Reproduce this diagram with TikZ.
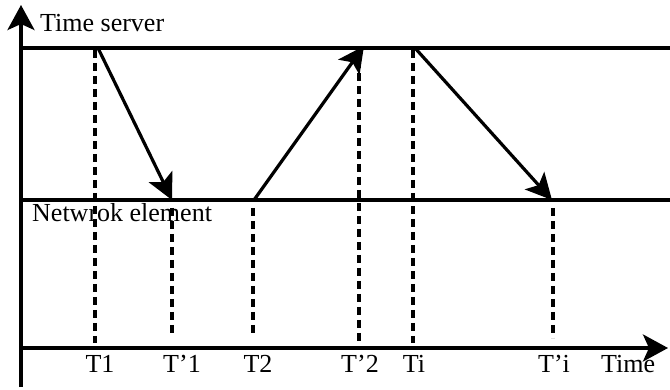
\documentclass[tikz,border=0pt]{standalone}
\usepackage{fontspec}
\setmainfont{Liberation Serif}
\usetikzlibrary{arrows.meta}

\begin{document}
\begin{tikzpicture}[x=1pt, y=-1pt,
    axis/.style={line width=3.5pt, -{Stealth[length=25pt, width=27pt, inset=6pt]}},
    rail/.style={line width=3.3pt},
    msg/.style={line width=3.2pt, -{Stealth[length=26pt, width=26pt, inset=6pt]}},
    vdash/.style={line width=3.8pt, dash pattern=on 8pt off 5pt},
    lab/.style={font=\fontsize{26}{31}\selectfont, inner sep=0pt, anchor=base}]
    \useasboundingbox (0,0) rectangle (670,390);
    % axes
    \coordinate (o) at (21,348);
    \coordinate (ybot) at (21,387);
    \coordinate (ytop) at (21,5);
    \coordinate (xend) at (668,348);
    \draw[axis] (ybot) -- (ytop);
    \draw[axis] (o) -- (xend);
    % the two time lines
    \coordinate (srvl) at (21,48);
    \coordinate (srvr) at (670,48);
    \coordinate (nel) at (21,200);
    \coordinate (ner) at (670,200);
    \draw[rail] (srvl) -- (srvr);
    \draw[rail] (nel) -- (ner);
    \node[lab, anchor=base west] (srv) at (40,32) {Time server};
    \node[lab, anchor=base west] (ne) at (32,222) {Netwrok element};
    % dashed drops
    \coordinate (d1a) at (95,50);   \coordinate (d1b) at (95,343);
    \coordinate (d2a) at (172,208); \coordinate (d2b) at (172,337);
    \coordinate (d3a) at (253,208); \coordinate (d3b) at (253,335);
    \coordinate (d4a) at (359,60);  \coordinate (d4b) at (359,345);
    \coordinate (d5a) at (413,50);  \coordinate (d5b) at (413,343);
    \coordinate (d6a) at (553,208); \coordinate (d6b) at (553,338);
    \draw[vdash] (d1a) -- (d1b);
    \draw[vdash] (d2a) -- (d2b);
    \draw[vdash] (d3a) -- (d3b);
    \draw[vdash] (d4a) -- (d4b);
    \draw[vdash] (d5a) -- (d5b);
    \draw[vdash] (d6a) -- (d6b);
    % messages
    \coordinate (s1) at (98,48);  \coordinate (r1) at (172,200);
    \coordinate (s2) at (254,200); \coordinate (r2) at (364,46);
    \coordinate (s3) at (415,48); \coordinate (r3) at (552,200);
    \draw[msg] (s1) -- (r1);
    \draw[msg] (s2) -- (r2);
    \draw[msg] (s3) -- (r3);
    % labels on the time axis
    \node[lab] (t1) at (100,373) {T1};
    \node[lab] (tp1) at (182,373) {T’1};
    \node[lab] (t2) at (258,373) {T2};
    \node[lab] (tp2) at (360,373) {T’2};
    \node[lab] (ti) at (414,373) {Ti};
    \node[lab] (tpi) at (554,373) {T’i};
    \node[lab, anchor=base west] (time) at (601,373) {Time};
\end{tikzpicture}
\end{document}
